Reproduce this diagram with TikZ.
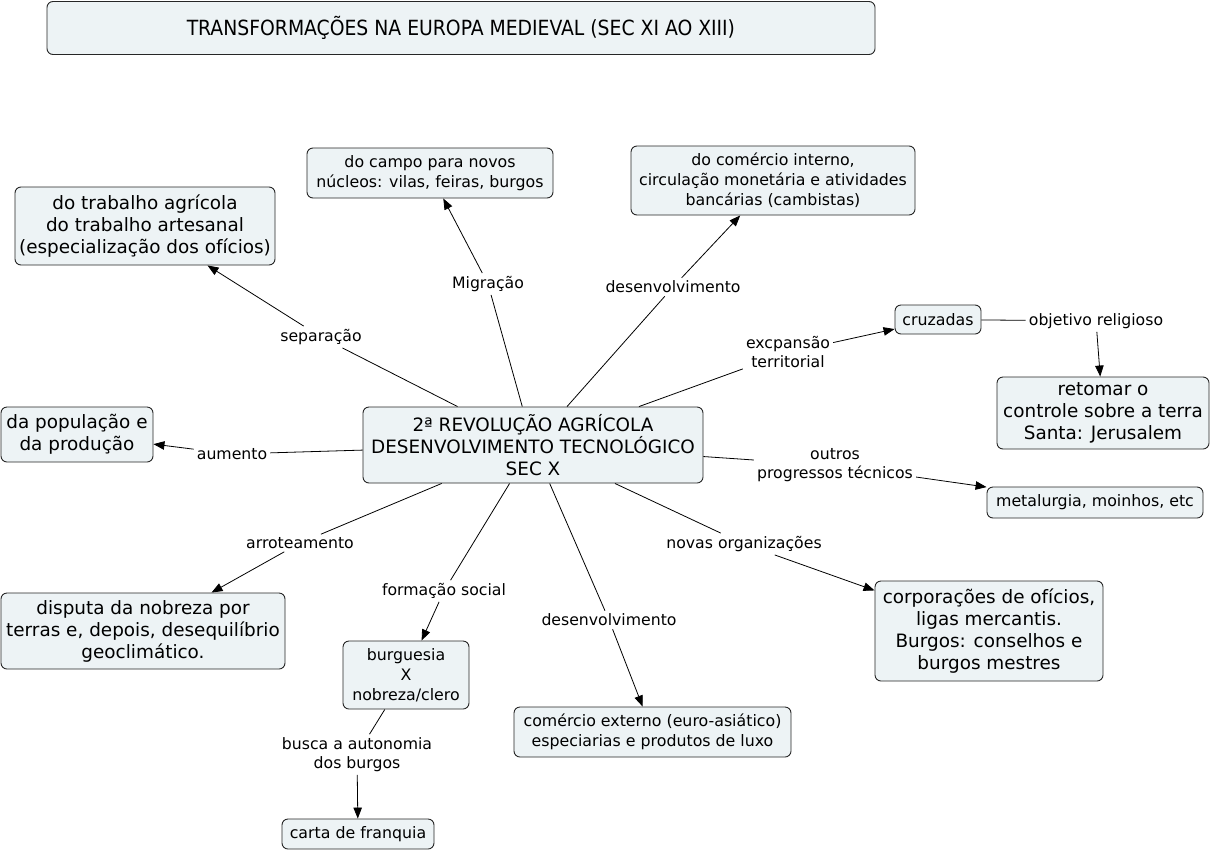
\documentclass[tikz,border=0pt]{standalone}
\usepackage{fontspec}
\setmainfont{DejaVu Sans}
\newfontfamily\titlefont{DejaVu Sans Condensed}
\usetikzlibrary{arrows.meta}
\definecolor{boxfill}{RGB}{237,243,245}
\begin{document}
\begin{tikzpicture}[x=1pt,y=-1pt,
  box/.style={draw=black!85, fill=boxfill, rounded corners=6pt, line width=0.9pt, align=center, inner sep=2pt},
  sm/.style={font=\fontsize{15.8}{20}\selectfont},
  lg/.style={font=\fontsize{18.4}{22}\selectfont},
  lbl/.style={align=center, font=\fontsize{15.7}{19}\selectfont, inner sep=3pt},
  arr/.style={-{Triangle[length=11pt,width=8.5pt]}, line width=0.8pt},
  ln/.style={line width=0.8pt}]
\useasboundingbox[fill=white] (0,0) rectangle (1212,852);

% boxes
\node[box,minimum width=828,minimum height=53,font=\titlefont\fontsize{20.9}{24}\selectfont] (title) at (461,28) {TRANSFORMAÇÕES NA EUROPA MEDIEVAL (SEC XI AO XIII)};
\node[box,sm,minimum width=246,minimum height=50] (campo) at (430,173) {do campo para novos\\núcleos: vilas, feiras, burgos};
\node[box,sm,minimum width=284,minimum height=69] (cint) at (773,180.5) {do comércio interno,\\circulação monetária e atividades\\bancárias (cambistas)};
\node[box,lg,minimum width=260,minimum height=78] (trab) at (145,226) {do trabalho agrícola\\do trabalho artesanal\\(especialização dos ofícios)};
\node[box,sm,minimum width=86,minimum height=29] (cruz) at (938,319.5) {cruzadas};
\node[box,lg,minimum width=212,minimum height=72] (ret) at (1103,413) {retomar o\\controle sobre a terra\\Santa: Jerusalem};
\node[box,lg,minimum width=152,minimum height=55] (pop) at (77,434.5) {da população e\\da produção};
\node[box,lg,minimum width=340,minimum height=76] (cen) at (533,445) {2ª REVOLUÇÃO AGRÍCOLA\\DESENVOLVIMENTO TECNOLÓGICO\\SEC X};
\node[box,sm,minimum width=216,minimum height=31] (met) at (1095,502.5) {metalurgia, moinhos, etc};
\node[box,lg,minimum width=284,minimum height=76] (disp) at (143,631) {disputa da nobreza por\\terras e, depois, desequilíbrio\\geoclimático.};
\node[box,lg,minimum width=228,minimum height=100] (corp) at (989,631) {corporações de ofícios,\\ligas mercantis.\\Burgos: conselhos e\\burgos mestres};
\node[box,sm,minimum width=126,minimum height=68] (burg) at (406,675) {burguesia\\X\\nobreza/clero};
\node[box,sm,minimum width=277,minimum height=50] (cext) at (652.5,732) {comércio externo (euro-asiático)\\especiarias e produtos de luxo};
\node[box,sm,minimum width=152,minimum height=30] (carta) at (358,834) {carta de franquia};

% labels
\node[lbl] (lsep) at (321,337) {separação};
\node[lbl] (lmig) at (488,284) {Migração};
\node[lbl] (ldes1) at (673,287) {desenvolvimento};
\node[lbl] (lexp) at (788,352.5) {excpansão\\territorial};
\node[lbl] (lobj) at (1096,321) {objetivo religioso};
\node[lbl] (laum) at (232,454) {aumento};
\node[lbl] (lout) at (835,465.5) {outros\\progressos técnicos};
\node[lbl] (larr) at (300,543) {arroteamento};
\node[lbl] (lnov) at (744,544) {novas organizações};
\node[lbl] (lfor) at (444,591) {formação social};
\node[lbl] (ldes2) at (609,620) {desenvolvimento};
\node[lbl] (lbus) at (357,754.5) {busca a autonomia\\dos burgos};

% connectors
\draw[ln] (cen) -- (lsep);  \draw[arr] (lsep) -- (trab);
\draw[ln] (cen) -- (lmig);  \draw[arr] (lmig) -- (campo);
\draw[ln] (cen) -- (ldes1); \draw[arr] (ldes1) -- (cint);
\draw[ln] (cen) -- (lexp);  \draw[arr] (lexp) -- (cruz);
\draw[ln] (cruz) -- (lobj); \draw[arr] (lobj) -- (ret);
\draw[ln] (cen) -- (laum);  \draw[arr] (laum) -- (pop);
\draw[ln] (cen) -- (lout);  \draw[arr] (lout) -- (met);
\draw[ln] (cen) -- (larr);  \draw[arr] (larr) -- (disp);
\draw[ln] (cen) -- (lnov);  \draw[arr] (lnov) -- (corp);
\draw[ln] (cen) -- (lfor);  \draw[arr] (lfor) -- (burg);
\draw[ln] (cen) -- (ldes2); \draw[arr] (ldes2) -- (cext);
\draw[ln] (burg) -- (lbus); \draw[arr] (lbus) -- (carta);
\end{tikzpicture}
\end{document}
